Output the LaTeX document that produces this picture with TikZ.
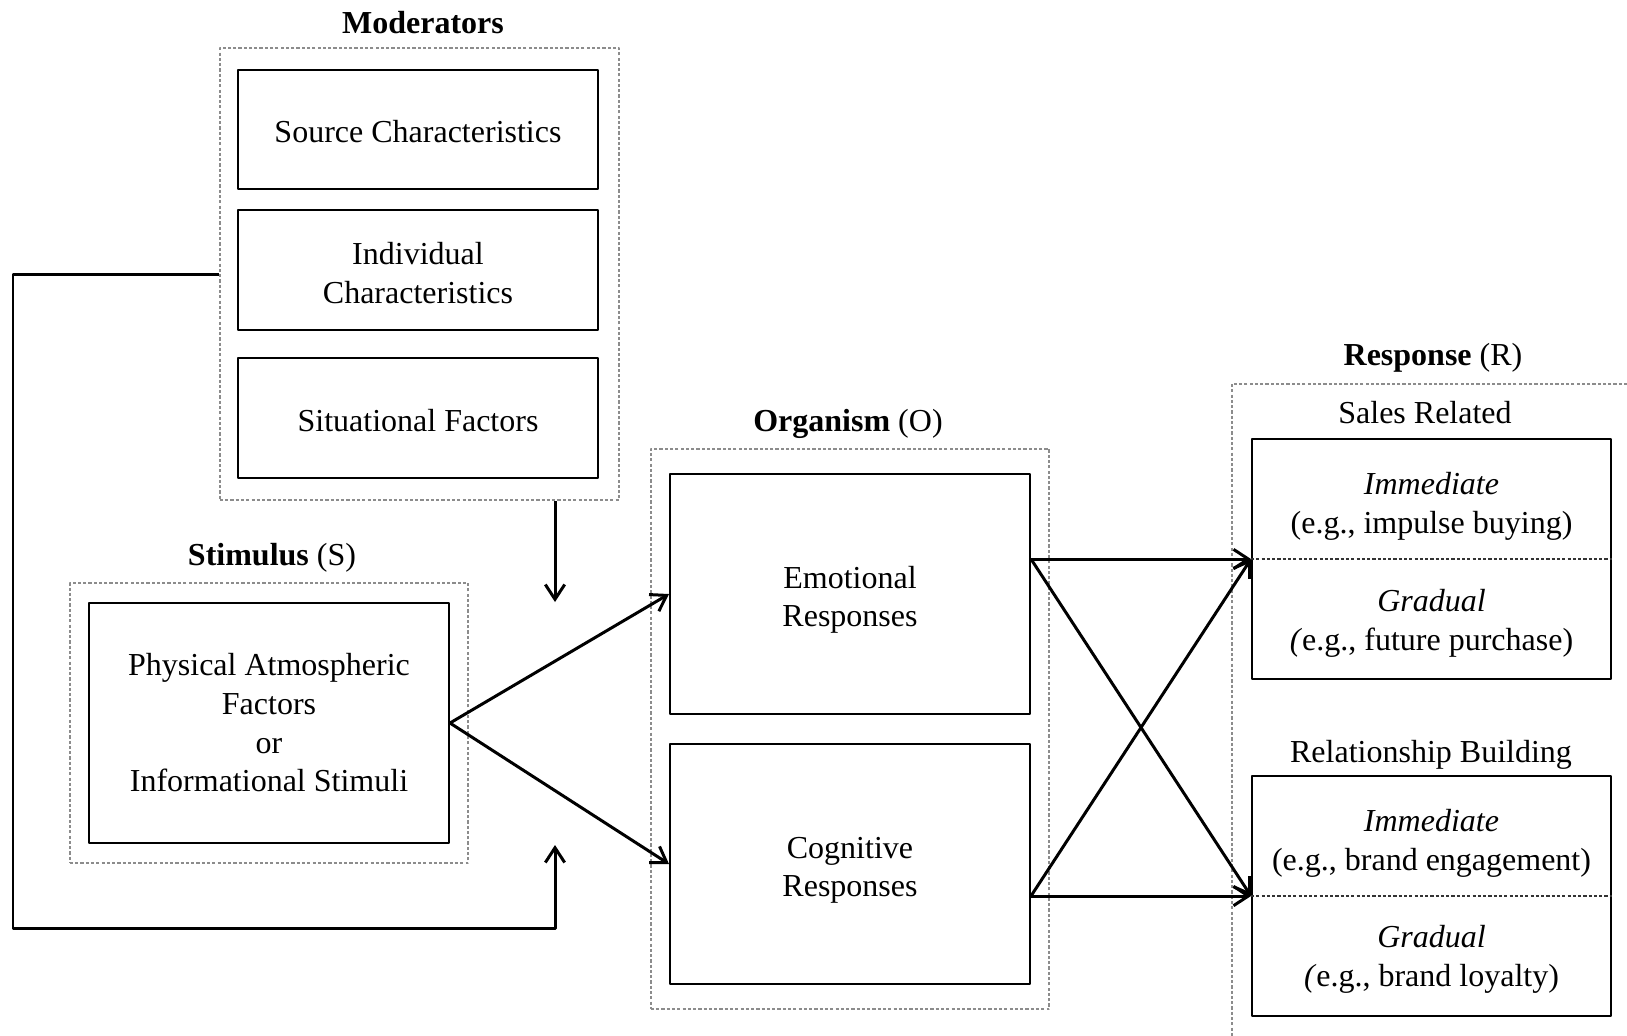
\documentclass[tikz,border=0pt]{standalone}
\usepackage{fontspec}
\setmainfont{Liberation Serif}
\usetikzlibrary{arrows.meta}
\begin{document}
\begin{tikzpicture}[x=0.01cm, y=-0.01cm, font=\fontsize{9.1}{11}\selectfont, line join=round,
  >={Straight Barb[length=4.2pt,width=5.5pt]},
  box/.style={draw, line width=0.5pt, inner sep=0pt, align=center, minimum width=3.6cm, minimum height=1.2cm},
  textdrop/.style={execute at begin node={\rule{0pt}{#1}}},
  dotbox/.style={draw=black!45, line width=0.55pt, dash pattern=on 0.9pt off 0.6pt, inner sep=0pt},
  split/.style={draw=black!80, line width=0.4pt, dash pattern=on 0.9pt off 0.6pt},
  arr/.style={->, line width=0.85pt},
  title/.style={anchor=base}]
	\useasboundingbox (0,0) rectangle (1627,1035);
	% moderators
	\node[dotbox, minimum width=3.99cm, minimum height=4.52cm] (mod) at (419.5,274) {};
	\node[title] (modt) at (423,33) {\textbf{Moderators}};
	\node[box, textdrop=7.6pt, minimum height=1.19cm] (src) at (418,129.5) {Source Characteristics};
	\node[box, textdrop=19pt] (ind) at (418,270) {Individual\\Characteristics};
	\node[box, textdrop=8pt] (sit) at (418,418) {Situational Factors};
	% stimulus
	\node[dotbox, minimum width=3.98cm, minimum height=2.8cm] (stimbox) at (269,723) {};
	\node[title] (stimt) at (272,565) {\textbf{Stimulus} (S)};
	\node[box, minimum height=2.4cm] (stim) at (269,723) {Physical Atmospheric\\Factors\\or\\Informational Stimuli};
	% organism
	\node[dotbox, minimum width=3.98cm, minimum height=5.6cm] (orgbox) at (850,729) {};
	\node[title] (orgt) at (848,431) {\textbf{Organism} (O)};
	\node[box, textdrop=20.6pt, minimum height=2.4cm] (emo) at (850,594) {Emotional\\Responses};
	\node[box, textdrop=20.6pt, minimum height=2.4cm] (cog) at (850,864) {Cognitive\\Responses};
	% response
	\begin{scope}
		\clip (0,0) rectangle (1627,1035);
		\draw[dotbox] (1232,384) rectangle (1700,1100);
	\end{scope}
	\node[title] (respt) at (1433,365) {\textbf{Response} (R)};
	\node[title] (salest) at (1425,423) {Sales Related};
	\node[box, minimum width=3.59cm, minimum height=2.4cm] (sales) at (1431.5,559) {};
	\draw[split] (sales.west) -- (sales.east);
	\node[align=center] (salesi) at (1431.5,506) {\textit{Immediate}\\(e.g., impulse buying)};
	\node[align=center] (salesg) at (1431.5,623) {\textit{Gradual}\\\textit{(}e.g., future purchase)};
	\node[title] (relt) at (1431,762) {Relationship Building};
	\node[box, minimum width=3.59cm, minimum height=2.4cm] (rel) at (1431.5,896) {};
	\draw[split] (rel.west) -- (rel.east);
	\node[align=center] (reli) at (1431.5,843) {\textit{Immediate}\\(e.g., brand engagement)};
	\node[align=center] (relg) at (1431.5,959) {\textit{Gradual}\\\textit{(}e.g., brand loyalty)};
	% connectors
	\coordinate (modtip) at (555,602);
	\coordinate (fbturn) at (13,928);
	\coordinate (fbtip) at (555,845);
	\draw[arr] (mod.south -| modtip) -- (modtip);
	\draw[arr] (mod.west) -| (fbturn) -| (fbtip);
	\draw[arr] (stim.east) -- (emo.west);
	\draw[arr] (stim.east) -- (cog.west);
	\foreach \s/\d in {emo/sales, cog/rel} {
		\draw[arr] (\s.east |- \d.west) -- (sales.west);
		\draw[arr] (\s.east |- \d.west) -- (rel.west);
	}
\end{tikzpicture}
\end{document}
